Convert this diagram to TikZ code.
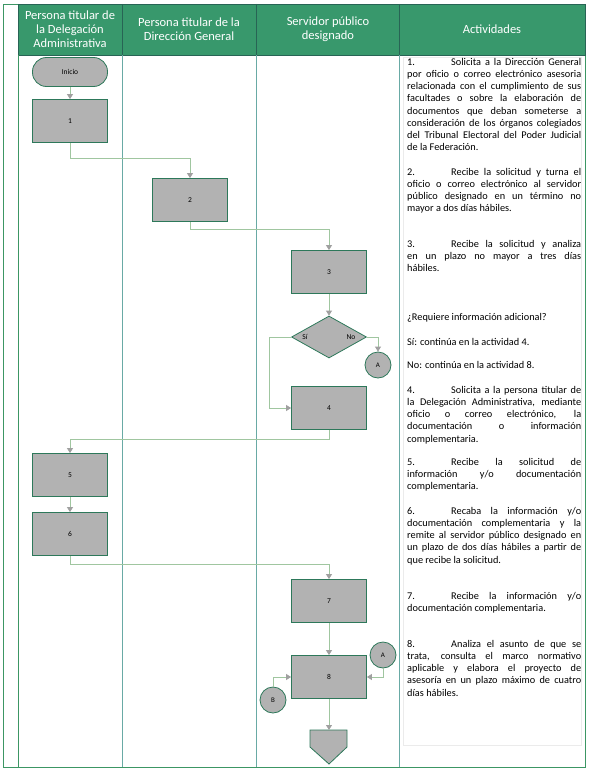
\documentclass[tikz,border=0pt]{standalone}
\usepackage{fontspec}
\setmainfont{Carlito}
\usetikzlibrary{arrows.meta,positioning,shapes.geometric,shadows}

\definecolor{hdrgreen}{RGB}{56,152,108}
\definecolor{hdrline}{RGB}{40,100,85}
\definecolor{frameline}{RGB}{60,150,100}
\definecolor{laneline}{RGB}{105,170,165}
\definecolor{boxfill}{RGB}{178,178,178}
\definecolor{boxline}{RGB}{45,120,90}
\definecolor{connline}{RGB}{160,198,160}
\definecolor{tipgray}{RGB}{160,160,160}

\tikzset{
  lanetitle/.style={text=white, align=center, inner sep=0pt, font=\fontsize{12.5}{14}\selectfont},
  procbox/.style={draw=boxline, line width=0.8pt, fill=boxfill, minimum width=75pt, minimum height=43pt, inner sep=0pt, font=\fontsize{7.5}{8}\selectfont},
  startbox/.style={procbox, rounded corners=14pt, minimum height=29pt},
  decbox/.style={diamond, draw=boxline, line width=0.8pt, fill=boxfill, minimum width=75pt, minimum height=42pt, inner sep=0pt},
  connbox/.style={circle, draw=boxline, line width=0.8pt, fill=boxfill, minimum size=26pt, inner sep=0pt, font=\fontsize{7}{8}\selectfont},
  declabel/.style={inner sep=0pt, font=\fontsize{7.5}{9}\selectfont},
  acttext/.style={anchor=north west, inner sep=0pt, text width=174pt, align=justify, font=\fontsize{10.3}{12.2}\selectfont},
  flow/.style={draw=connline, line width=0.8pt, -{Triangle[width=6pt,length=5pt,color=tipgray]}}
}
\newcommand{\actnum}[1]{\makebox[44pt][l]{#1}}

\begin{document}
\begin{tikzpicture}[x=1pt, y=-1pt]
\useasboundingbox (0,0) rectangle (590,773);

% marco y carriles
\draw[frameline, line width=0.8pt] (3,4) rectangle (585,767);
\fill[hdrgreen] (18,4) rectangle (585,55);
\draw[hdrline, line width=0.8pt] (18,4) rectangle (585,55);
\foreach \x in {122,256,399} \draw[hdrline, line width=0.8pt] (\x,4) -- (\x,55);
\draw[frameline, line width=0.8pt] (18,55) -- (18,767);
\foreach \x in {122,256,399} \draw[laneline, line width=0.8pt] (\x,55) -- (\x,767);
\draw[draw=black!8, fill=white, drop shadow={opacity=0.15, shadow xshift=1pt, shadow yshift=-1pt}] (403,57) rectangle (581,745);

% encabezados
\node (hdel) [lanetitle] at (70,29) {Persona titular de\\la Delegación\\Administrativa};
\node (hdir) [lanetitle] at (189,29) {Persona titular de la\\Dirección General};
\node (hsrv) [lanetitle] at (328,29) {Servidor público\\designado};
\node (hact) [lanetitle] at (492,29) {Actividades};

% diagrama
\node (inicio) [startbox] at (70,72) {Inicio};
\node (a1) [procbox] at (70,121) {1};
\node (a2) [procbox] at (190,200) {2};
\node (a3) [procbox] at (329,272) {3};
\node (q3) [decbox] at (329,337) {};
\node (lsi) [declabel] at (305,337) {Sí};
\node (lno) [declabel] at (351,337) {No};
\node (ca) [connbox] at (378,365) {A};
\node (a4) [procbox] at (329,408) {4};
\node (a5) [procbox] at (70,475) {5};
\node (a6) [procbox] at (70,534) {6};
\node (a7) [procbox] at (329,601) {7};
\node (a8) [procbox] at (329,677) {8};
\node (cA) [connbox] at (383,655) {A};
\node (cB) [connbox] at (273,700) {B};
\coordinate (fin) at (329,730);
\draw[draw=boxline, line width=0.8pt, fill=boxfill] (310,730) -- (347,730) -- (347,747) -- (329,764) -- (310,747) -- cycle;

\draw[flow] (inicio) -- (a1);
\draw[flow] (a1.south) -- ++(0,15) -| (a2.north);
\draw[flow] (a2.south) -- ++(0,7) -| (a3.north);
\draw[flow] (a3) -- (q3);
\draw[flow] (q3.west) -- ++(-22,0) |- (a4.west);
\draw[flow] (q3.east) -| (ca.north);
\draw[flow] (a4.south) -- ++(0,9) -| (a5.north);
\draw[flow] (a5) -- (a6);
\draw[flow] (a6.south) -- ++(0,8) -| (a7.north);
\draw[flow] (a7) -- (a8);
\draw[flow] (cA.south) |- (a8.east);
\draw[flow] (cB.north) |- (a8.west);
\draw[flow] (a8) -- (fin);

% actividades
\node (t1) [acttext] at (407,58) {\actnum{1.}Solicita a la Dirección General\linebreak por oficio o correo electrónico asesoria\linebreak relacionada con el cumplimiento de sus\linebreak facultades o sobre la elaboración de\linebreak documentos que deban someterse a\linebreak consideración de los órganos colegiados\linebreak del Tribunal Electoral del Poder Judicial\linebreak de la Federación.};
\node (t2) [acttext] at (407,168) {\actnum{2.}Recibe la solicitud y turna el\linebreak oficio o correo electrónico al servidor\linebreak público designado en un término no\linebreak mayor a dos días hábiles.};
\node (t3) [acttext] at (407,240) {\actnum{3.}Recibe la solicitud y analiza\linebreak en un plazo no mayor a tres días\linebreak hábiles.};
\node (tq) [acttext] at (407,313) {¿Requiere información adicional?};
\node (tsi) [acttext] at (407,338) {Sí: continúa en la actividad 4.};
\node (tno) [acttext] at (407,361) {No: continúa en la actividad 8.};
\node (t4) [acttext] at (407,386) {\actnum{4.}Solicita a la persona titular de\linebreak la Delegación Administrativa, mediante\linebreak oficio o correo electrónico, la\linebreak documentación o información\linebreak complementaria.};
\node (t5) [acttext] at (407,458) {\actnum{5.}Recibe la solicitud de\linebreak información y/o documentación\linebreak complementaria.};
\node (t6) [acttext] at (407,507) {\actnum{6.}Recaba la información y/o\linebreak documentación complementaria y la\linebreak remite al servidor público designado en\linebreak un plazo de dos días hábiles a partir de\linebreak que recibe la solicitud.};
\node (t7) [acttext] at (407,592) {\actnum{7.}Recibe la información y/o\linebreak documentación complementaria.};
\node (t8) [acttext] at (407,640) {\actnum{8.}Analiza el asunto de que se\linebreak trata, consulta el marco normativo\linebreak aplicable y elabora el proyecto de\linebreak asesoría en un plazo máximo de cuatro\linebreak días hábiles.};
\end{tikzpicture}
\end{document}
